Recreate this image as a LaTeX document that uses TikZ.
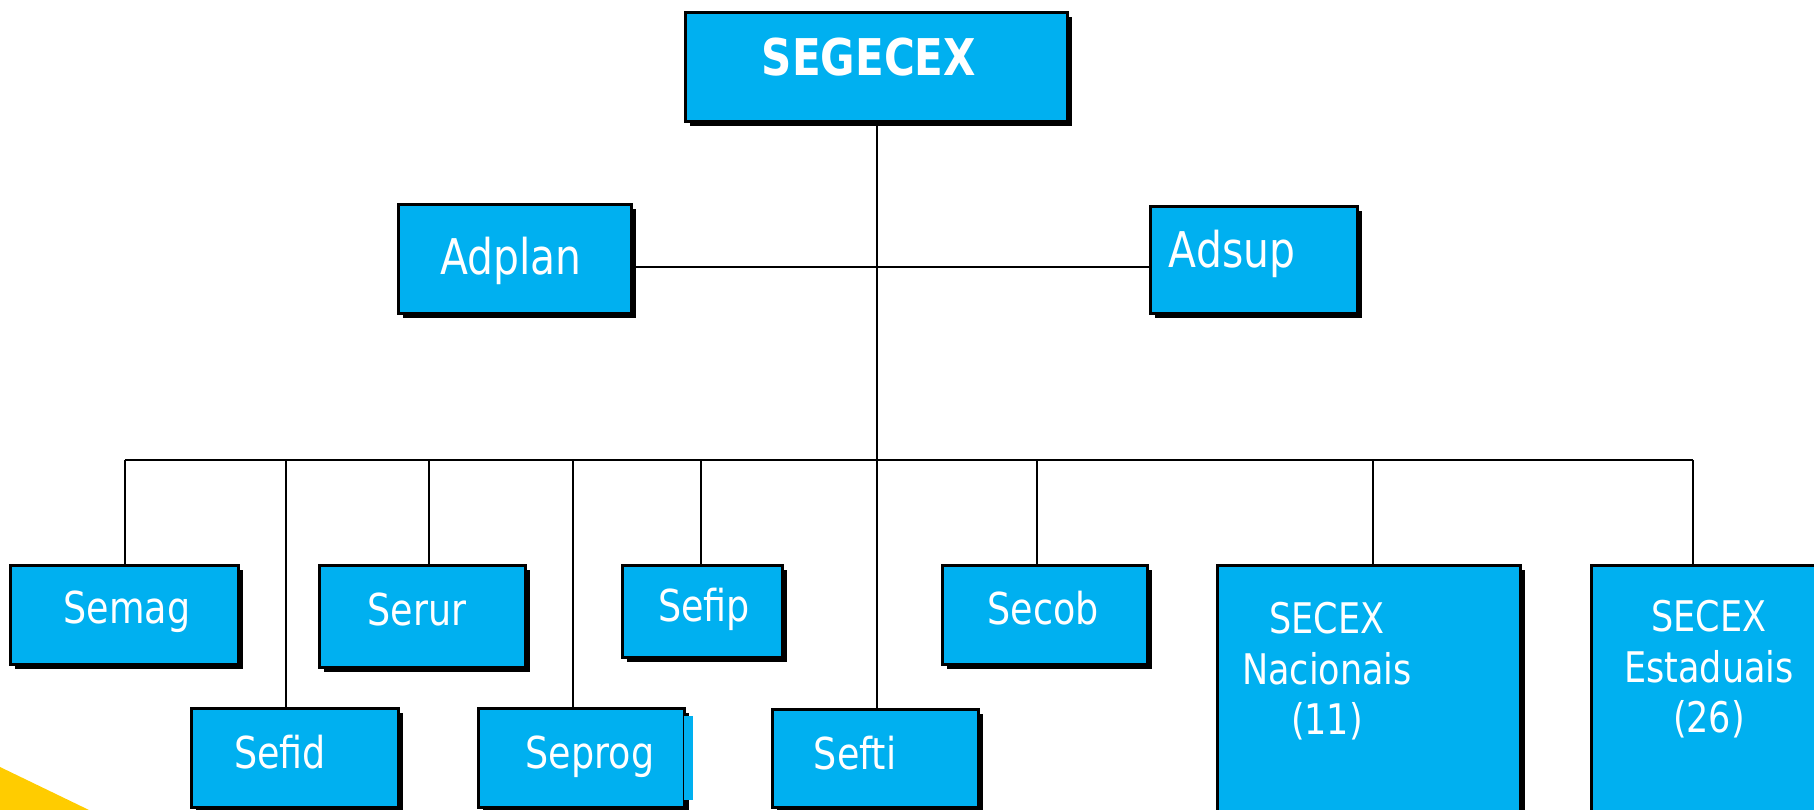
\documentclass[tikz,border=0pt]{standalone}
\usepackage{fontspec}
\setmainfont{DejaVu Sans}[FakeStretch=0.83]
\usetikzlibrary{shadows}
\definecolor{boxblue}{RGB}{0,176,240}
\definecolor{sunyellow}{RGB}{255,204,0}
\newdimen\pxu \pxu=0.01cm
\tikzset{
  orgbox/.style={rectangle, draw=black, line width=0.8pt, fill=boxblue, inner sep=0pt,
    anchor=north west,
    drop shadow={shadow xshift=5\pxu, shadow yshift=-5\pxu, fill=black, opacity=1}},
  wtxt/.style={text=white, inner sep=0pt, anchor=base, font=\fontsize{12.5}{15}\selectfont},
  bigtxt/.style={wtxt, font=\fontsize{14}{17}\selectfont},
  headtxt/.style={wtxt, font=\fontsize{14.4}{17}\selectfont\bfseries},
  multitxt/.style={wtxt, align=center, font=\fontsize{12}{14.4}\selectfont},
  wire/.style={draw=black, line width=0.65pt}
}
\begin{document}
\begin{tikzpicture}[x=0.01cm, y=-0.01cm]
\useasboundingbox (0,0) rectangle (1814,810);
\clip (0,0) rectangle (1814,810);
\fill[white] (0,0) rectangle (1814,810);
\fill[sunyellow] (0,767) -- (89,810) -- (0,810) -- cycle;

% coordinates of the wiring
\coordinate (trunk) at (877,460);
\coordinate (mid) at (877,267);
\coordinate (midend) at (940,267);
\coordinate (d1) at (125,460);
\coordinate (d2) at (286,460);
\coordinate (d3) at (429,460);
\coordinate (d4) at (573,460);
\coordinate (d5) at (701,460);
\coordinate (d7) at (1037,460);
\coordinate (d8) at (1373,460);
\coordinate (d9) at (1693,460);

% boxes
\node[orgbox, minimum width=382\pxu, minimum height=109\pxu] (segecex) at (684,11) {};
\node[orgbox, minimum width=233\pxu, minimum height=109\pxu] (adplan) at (397,203) {};
\node[orgbox, minimum width=207\pxu, minimum height=107\pxu] (adsup) at (1149,205) {};
\node[orgbox, minimum width=228\pxu, minimum height=99\pxu] (semag) at (9,564) {};
\node[orgbox, minimum width=206\pxu, minimum height=102\pxu] (serur) at (318,564) {};
\node[orgbox, minimum width=160\pxu, minimum height=92\pxu] (sefip) at (621,564) {};
\node[orgbox, minimum width=205\pxu, minimum height=99\pxu] (secob) at (941,564) {};
\node[orgbox, minimum width=303\pxu, minimum height=260\pxu] (nac) at (1216,564) {};
\node[orgbox, minimum width=260\pxu, minimum height=260\pxu] (est) at (1590,564) {};
\node[orgbox, minimum width=207\pxu, minimum height=99\pxu] (sefid) at (190,707) {};
\node[orgbox, minimum width=206\pxu, minimum height=99\pxu] (seprog) at (477,707) {};
\fill[boxblue] (684,716) rectangle (693,800);
\node[orgbox, minimum width=206\pxu, minimum height=98\pxu] (sefti) at (771,708) {};

% texts
\node[headtxt] (segecex-t) at (869,76) {SEGECEX};
\node[bigtxt] (adplan-t) at (511,275) {Adplan};
\node[bigtxt] (adsup-t) at (1232,268) {Adsup};
\node[wtxt] (semag-t) at (127,624) {Semag};
\node[wtxt] (serur-t) at (417,626) {Serur};
\node[wtxt] (sefip-t) at (704,622) {Sefip};
\node[wtxt] (secob-t) at (1043,625) {Secob};
\node[wtxt] (sefid-t) at (280,769) {Sefid};
\node[wtxt] (seprog-t) at (590,769) {Seprog};
\node[wtxt] (sefti-t) at (855,770) {Sefti};
\node[multitxt] (nac-t) at (1327,735) {SECEX\\Nacionais\\(11)};
\node[multitxt] (est-t) at (1709,733) {SECEX\\Estaduais\\(26)};

% wiring
\draw[wire] (segecex.south -| trunk) -- (sefti.north -| trunk);
\draw[wire] (adplan.east |- mid) -- (midend);
\draw[wire] (mid) -- (adsup.west |- mid);
\draw[wire] (d1) -- (d9);
\draw[wire] (d1) -- (semag.north -| d1);
\draw[wire] (d2) -- (sefid.north -| d2);
\draw[wire] (d3) -- (serur.north -| d3);
\draw[wire] (d4) -- (seprog.north -| d4);
\draw[wire] (d5) -- (sefip.north -| d5);
\draw[wire] (d7) -- (secob.north -| d7);
\draw[wire] (d8) -- (nac.north -| d8);
\draw[wire] (d9) -- (est.north -| d9);
\end{tikzpicture}
\end{document}
